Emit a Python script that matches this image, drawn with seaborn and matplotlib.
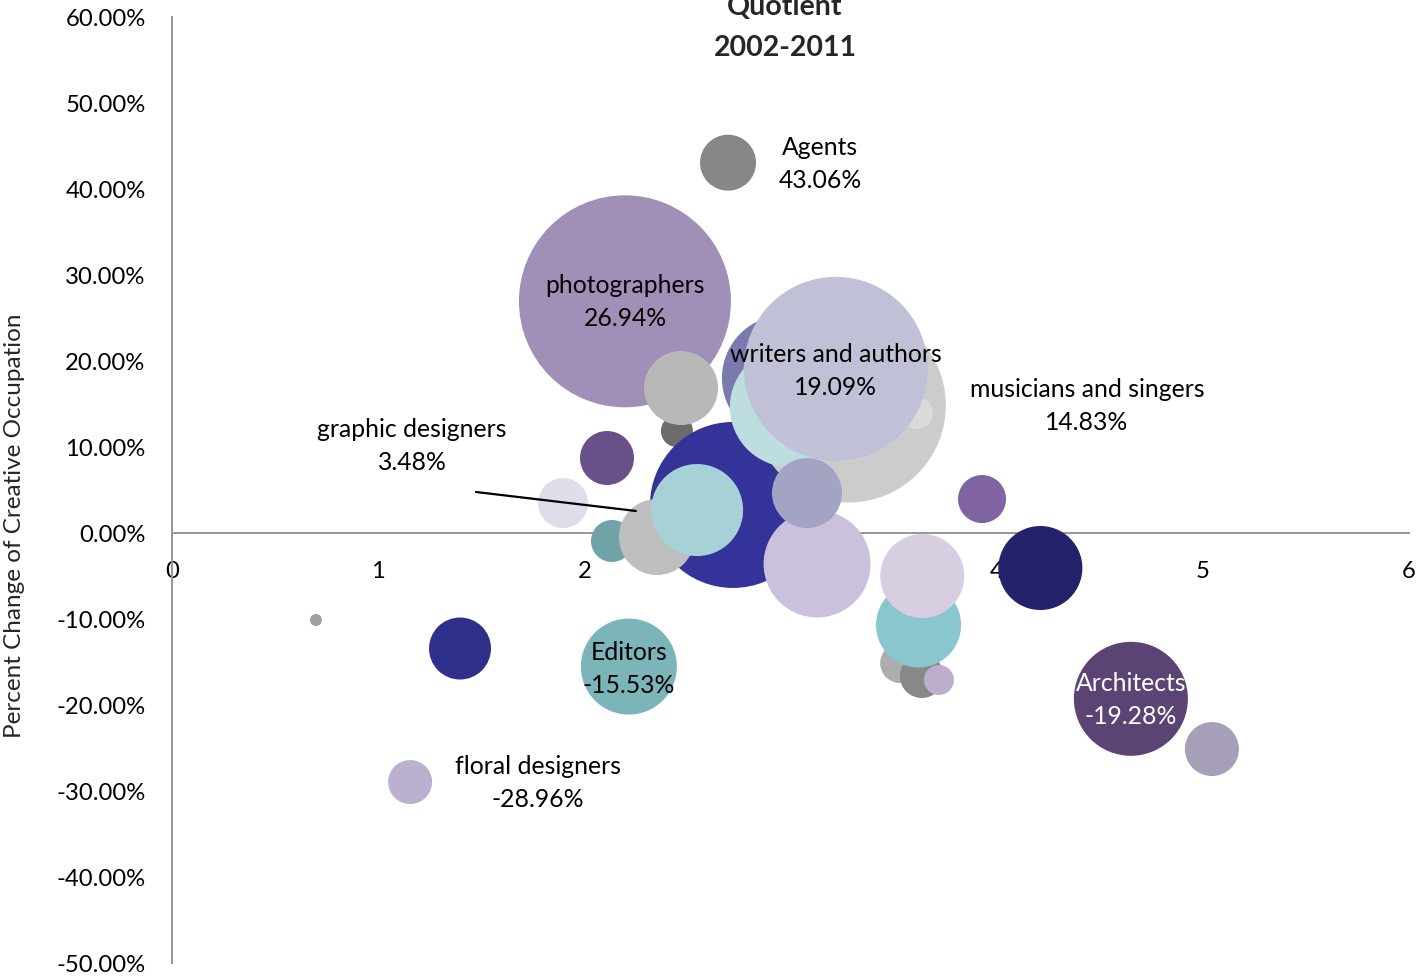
import matplotlib
matplotlib.use("Agg")
import matplotlib.pyplot as plt
import seaborn as sns
import pandas as pd

# ---- data ----
occupations = [
    "photographers", "occupation B", "occupation C", "occupation D", "occupation E",
    "occupation F", "occupation G", "musicians and singers", "occupation I",
    "occupation J", "occupation K", "writers and authors", "occupation M",
    "occupation N", "occupation O", "occupation P", "occupation Q", "occupation R",
    "occupation S", "Agents", "occupation U", "graphic designers", "occupation W",
    "occupation X", "Architects", "occupation Z", "floral designers", "Editors",
    "occupation AC", "occupation AD",
]
location_quotient = [
    2.197, 2.449, 2.469, 2.721, 2.134,
    2.352, 2.547, 3.283, 3.614,
    2.973, 2.997, 3.220, 3.129,
    3.080, 3.532, 3.637, 3.720, 3.621,
    3.639, 2.697, 2.110, 1.897, 4.212,
    3.929, 4.651, 5.044, 1.155, 2.216,
    1.397, 0.698,
]
pct_change = [
    0.2694, 0.1186, 0.1686, 0.0326, -0.0093,
    -0.0047, 0.0267, 0.1483, 0.1395,
    0.1802, 0.1465, 0.1909, -0.0360,
    0.0465, -0.1512, -0.1663, -0.1709, -0.1070,
    -0.0500, 0.4306, 0.0872, 0.0348, -0.0407,
    0.0395, -0.1928, -0.2512, -0.2896, -0.1553,
    -0.1343, -0.1012,
]
employment = [
    11236, 256, 1369, 6889, 441,
    1444, 2116, 9409, 256,
    3969, 3600, 8464, 2862,
    1225, 400, 484, 225, 1806,
    1764, 784, 729, 625, 1764,
    576, 3249, 729, 484, 2304,
    961, 36,
]
colors = [
    "#A08FB7", "#6B6B6B", "#B8B8B8", "#343399", "#6FA3A8",
    "#BEBEBE", "#A7D1D7", "#CCCCCC", "#DADADA",
    "#7A7AAF", "#BEDDE1", "#C0C1D7", "#CBC1DC",
    "#A3A3C4", "#ADADAD", "#888888", "#BBAFCB", "#8AC6CE",
    "#D7CEE2", "#878787", "#6A5088", "#E0DCEA", "#23226B",
    "#8064A2", "#5B4474", "#A79EB7", "#BCB0D0", "#7BB4B9",
    "#2E308B", "#A0A0A0",
]
label_names = {
    "photographers": "photographers", "writers and authors": "writers and authors",
    "musicians and singers": "musicians and singers", "Agents": "Agents",
    "graphic designers": "graphic designers", "Architects": "Architects",
    "floral designers": "floral designers", "Editors": "Editors",
}
x_ticks = [0, 1, 2, 3, 4, 5, 6]
y_ticks = [-0.5, -0.4, -0.3, -0.2, -0.1, 0.0, 0.1, 0.2, 0.3, 0.4, 0.5, 0.6]
title_text = "Quotient\n2002-2011"
y_title = "Percent Change of Creative Occupation"

df = pd.DataFrame({"occupation": occupations, "lq": location_quotient,
                   "pct": pct_change, "employment": employment})
palette = dict(zip(occupations, colors))

# ---- layout / style ----
W, H, DPI = 1418, 980, 100
FONT = ["Lato", "DejaVu Sans"]
sns.set_theme(style="white")
plt.rcParams["font.family"] = FONT

fig = plt.figure(figsize=(W / DPI, H / DPI), dpi=DPI)
L, R, T, B = 172, 1409, 17, 963
ax = fig.add_axes([L / W, 1 - B / H, (R - L) / W, (B - T) / H])

px_per_pt = DPI / 72.0
# area in pt^2 proportional to employment (radius^2 in px)
area_scale = (2 / px_per_pt) ** 2
maxv = max(employment)
sns.scatterplot(data=df, x="lq", y="pct", hue="occupation", palette=palette,
                size="employment", sizes=(0, area_scale * maxv), size_norm=(0, maxv),
                legend=False, linewidth=0, alpha=1, ax=ax, zorder=2)

ax.set_xlim(0, 6)
ax.set_ylim(-0.5, 0.6)
ax.set_xticks(x_ticks)
ax.set_xticklabels([str(t) for t in x_ticks])
ax.set_yticks(y_ticks)
ax.set_yticklabels([f"{t*100:.2f}%" for t in y_ticks])
for s in ["top", "right"]:
    ax.spines[s].set_visible(False)
ax.spines["bottom"].set_position(("data", 0))
ax.spines["left"].set_position(("data", 0))
for s in ["bottom", "left"]:
    ax.spines[s].set_color("#969696")
    ax.spines[s].set_linewidth(1.4)
    ax.spines[s].set_zorder(1)
ax.tick_params(axis="both", length=0, labelsize=17.2, colors="black")
ax.tick_params(axis="x", pad=20)
ax.tick_params(axis="y", pad=19)
ax.set_xlabel("")
ax.set_ylabel(y_title, fontsize=17.5)
ax.yaxis.label.set_va("center")
ax.yaxis.set_label_coords((15 - L) / (R - L), (B - 526) / (B - T))
ax.patch.set_alpha(0)

# data labels: offsets in pixels from each bubble
offsets = {
    "photographers": (0, -1), "writers and authors": (0, -2),
    "musicians and singers": (238, -1), "Agents": (92, -1),
    "graphic designers": (-151, 57), "Architects": (0, -1),
    "floral designers": (128, -1), "Editors": (0, -2),
}
label_colors = {"Architects": "white"}
for occ, x, y in zip(occupations, location_quotient, pct_change):
    if occ in label_names:
        dx, dy = offsets[occ]
        ax.annotate(f"{label_names[occ]}\n{y*100:.2f}%", xy=(x, y),
                    xytext=(dx, dy), textcoords="offset pixels",
                    ha="center", va="center", fontsize=17.8, linespacing=1.53,
                    color=label_colors.get(occ, "black"), zorder=5)

# leader line for graphic designers label
ax.annotate("", xy=(2.250, 0.0256), xytext=(1.474, 0.0477),
            arrowprops=dict(arrowstyle="-", color="black", lw=1.6,
                            shrinkA=0, shrinkB=0), zorder=4)

fig.text(785 / W, 1 - 27.5 / H, title_text, ha="center", va="center",
         fontsize=20.5, fontweight="bold", linespacing=1.68)

fig.savefig("out.png", dpi=DPI)
